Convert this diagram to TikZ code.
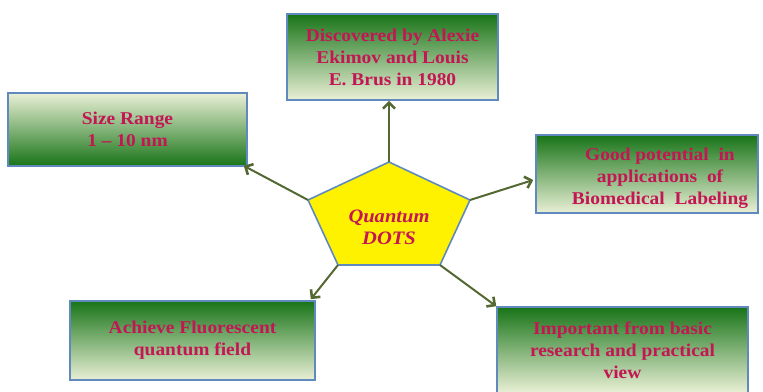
\documentclass[tikz,border=0pt]{standalone}
\usepackage{fontspec}
\setmainfont{Liberation Serif}[FakeStretch=1.08]
\usetikzlibrary{arrows.meta,calc}
\definecolor{txtc}{RGB}{196,22,84}
\definecolor{arrowc}{RGB}{84,104,50}
\definecolor{edgec}{RGB}{96,138,190}
\definecolor{dgreen}{RGB}{24,116,24}
\definecolor{mgreen}{RGB}{140,184,96}
\definecolor{lgreen}{RGB}{234,240,214}
\tikzset{
  boxtxt/.style={text=txtc, align=center, font=\fontsize{18}{22}\selectfont\bfseries},
  gbox/.style={draw=edgec, line width=1.6pt, inner sep=0pt, boxtxt,
    top color=dgreen, middle color=mgreen, bottom color=lgreen},
  rbox/.style={draw=edgec, line width=1.6pt, inner sep=0pt, boxtxt,
    top color=lgreen, middle color=mgreen, bottom color=dgreen},
  pent/.style={draw=edgec, line width=1.6pt, fill=yellow, line join=miter},
  arr/.style={draw=arrowc, line width=2pt, -{Straight Barb[length=6pt,width=12pt,line width=2.6pt]}}
}
\begin{document}
\begin{tikzpicture}[x=1pt,y=-1pt]
\useasboundingbox (0,0) rectangle (763,391);
\clip (0,0) rectangle (763,391);
% boxes
\node[gbox, minimum width=211pt, minimum height=86pt] (disc) at (392.5,57) {Discovered by Alexie\\Ekimov and Louis\\E. Brus in 1980};
\node[rbox, minimum width=239pt, minimum height=73pt] (size) at (127.5,129.5) {Size Range\\1 -- 10 nm};
\node[gbox, minimum width=222pt, minimum height=78pt,
  label={[boxtxt, xshift=13pt, yshift=-4pt]center:Good potential\ \ in\\applications\ \ of\\Biomedical\ \ Labeling}] (good) at (647,174) {};
\node[gbox, minimum width=245pt, minimum height=79pt] (ach) at (192.5,340.5) {Achieve Fluorescent\\quantum field};
\node[gbox, minimum width=251pt, minimum height=86pt] (imp) at (622.5,350) {Important from basic\\research and practical\\view};
% pentagon
\coordinate (pt) at (389,162);
\coordinate (pl) at (308,200);
\coordinate (pr) at (470,200);
\coordinate (pbl) at (338,265);
\coordinate (pbr) at (440,265);
\draw[pent] (pt) -- (pr) -- (pbr) -- (pbl) -- (pl) -- cycle;
\node[text=txtc, align=center, font=\fontsize{19}{22}\selectfont\bfseries\itshape] (qd) at (389,227) {Quantum\\DOTS};
% connectors
\draw[arr] (pt) -- (pt |- disc.south);
\draw[arr] (pl) -- ([xshift=-4pt,yshift=1pt]size.south east);
\draw[arr] (pr) -- ([xshift=-2pt,yshift=-6pt]good.west);
\draw[arr] (pbl) -- ([xshift=-5pt,yshift=1pt]ach.north east);
\draw[arr] (pbr) -- (imp.north west);
\end{tikzpicture}
\end{document}
